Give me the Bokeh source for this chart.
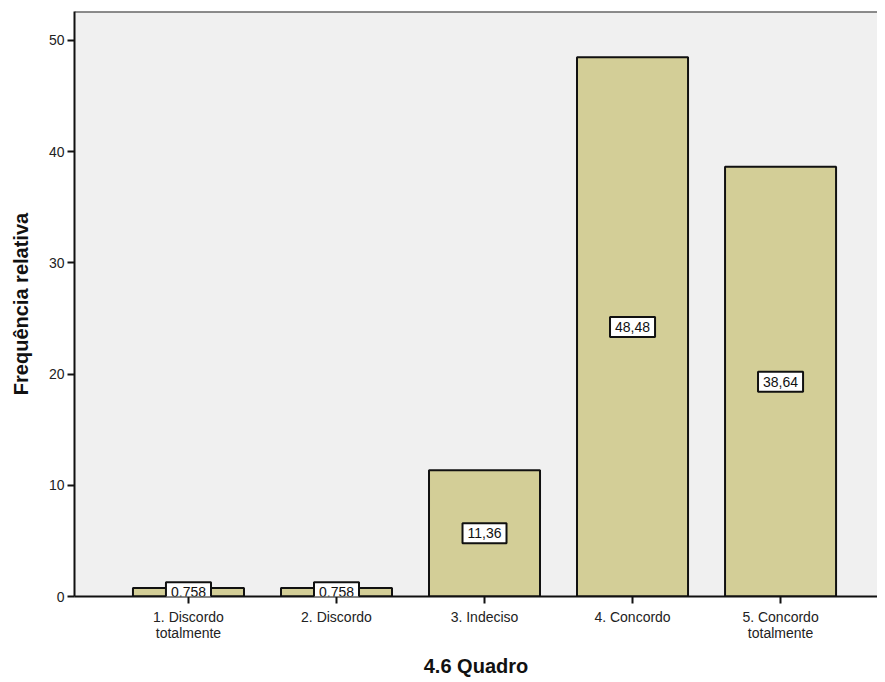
from bokeh.plotting import figure
from bokeh.models import ColumnDataSource, Label, FixedTicker, Span
from bokeh.embed import file_html
from bokeh.resources import INLINE

categories = ["1. Discordo\ntotalmente", "2. Discordo", "3. Indeciso", "4. Concordo", "5. Concordo\ntotalmente"]
values = [0.758, 0.758, 11.36, 48.48, 38.64]
y_ticks = [0, 10, 20, 30, 40, 50]

xs = list(range(1, len(categories) + 1))
labels = [f"{v:.4g}".replace(".", ",") for v in values]
src = ColumnDataSource(dict(x=xs, top=values))

Y_END = 52.6
p = figure(width=877, height=679, output_backend="svg", toolbar_location=None,
           x_range=(0.23, 5.655), y_range=(0, Y_END),
           min_border_left=74, min_border_top=11, min_border_bottom=78, min_border_right=0)
p.background_fill_color = "#f0f0f0"
p.border_fill_color = "white"
p.outline_line_color = None
p.grid.visible = False

p.vbar(x="x", top="top", width=0.75, bottom=0, source=src,
       fill_color="#d3ce97", line_color="#111111", line_width=2)

for x, v, t in zip(xs, values, labels):
    p.add_layout(Label(x=x, y=v / 2, text=t,
                       text_align="center", text_baseline="middle",
                       text_font="Liberation Sans", text_font_size="14px", text_color="#111111",
                       background_fill_color="white", border_line_color="#111111",
                       border_line_width=2, padding=5))

p.add_layout(Span(location=Y_END, dimension="width", line_color="#222222", line_width=2))

# y axis
p.yaxis.ticker = FixedTicker(ticks=y_ticks)
p.yaxis.axis_label = "Frequência relativa"
p.yaxis.axis_label_text_font = "Liberation Sans"
p.yaxis.axis_label_text_font_style = "bold"
p.yaxis.axis_label_text_font_size = "20px"
p.yaxis.axis_label_text_color = "#111111"
p.yaxis.axis_label_standoff = 14
p.yaxis.major_label_text_font = "Liberation Sans"
p.yaxis.major_label_text_font_size = "14px"
p.yaxis.major_label_text_color = "#222222"
p.yaxis.major_label_standoff = 3
p.yaxis.major_tick_out = 7
p.yaxis.major_tick_in = 0
p.yaxis.minor_tick_line_color = None
p.yaxis.axis_line_width = 2
p.yaxis.major_tick_line_width = 2
p.yaxis.axis_line_color = "#111111"
p.yaxis.major_tick_line_color = "#111111"

# x axis
p.xaxis.ticker = FixedTicker(ticks=xs)
p.xaxis.major_label_overrides = {x: c for x, c in zip(xs, categories)}
p.xaxis.axis_label = "4.6 Quadro"
p.xaxis.axis_label_text_font = "Liberation Sans"
p.xaxis.axis_label_text_font_style = "bold"
p.xaxis.axis_label_text_font_size = "20px"
p.xaxis.axis_label_text_line_height = 1.0
p.xaxis.axis_label_text_color = "#111111"
p.xaxis.axis_label_standoff = 11
p.xaxis.major_label_text_font = "Liberation Sans"
p.xaxis.major_label_text_font_size = "14px"
p.xaxis.major_label_text_line_height = 1.0
p.xaxis.major_label_text_color = "#222222"
p.xaxis.major_label_standoff = 5
p.xaxis.major_tick_out = 7
p.xaxis.major_tick_in = 0
p.xaxis.minor_tick_line_color = None
p.xaxis.axis_line_width = 2
p.xaxis.major_tick_line_width = 2
p.xaxis.axis_line_color = "#111111"
p.xaxis.major_tick_line_color = "#111111"

open("out.html", "w").write(file_html(p, INLINE))
